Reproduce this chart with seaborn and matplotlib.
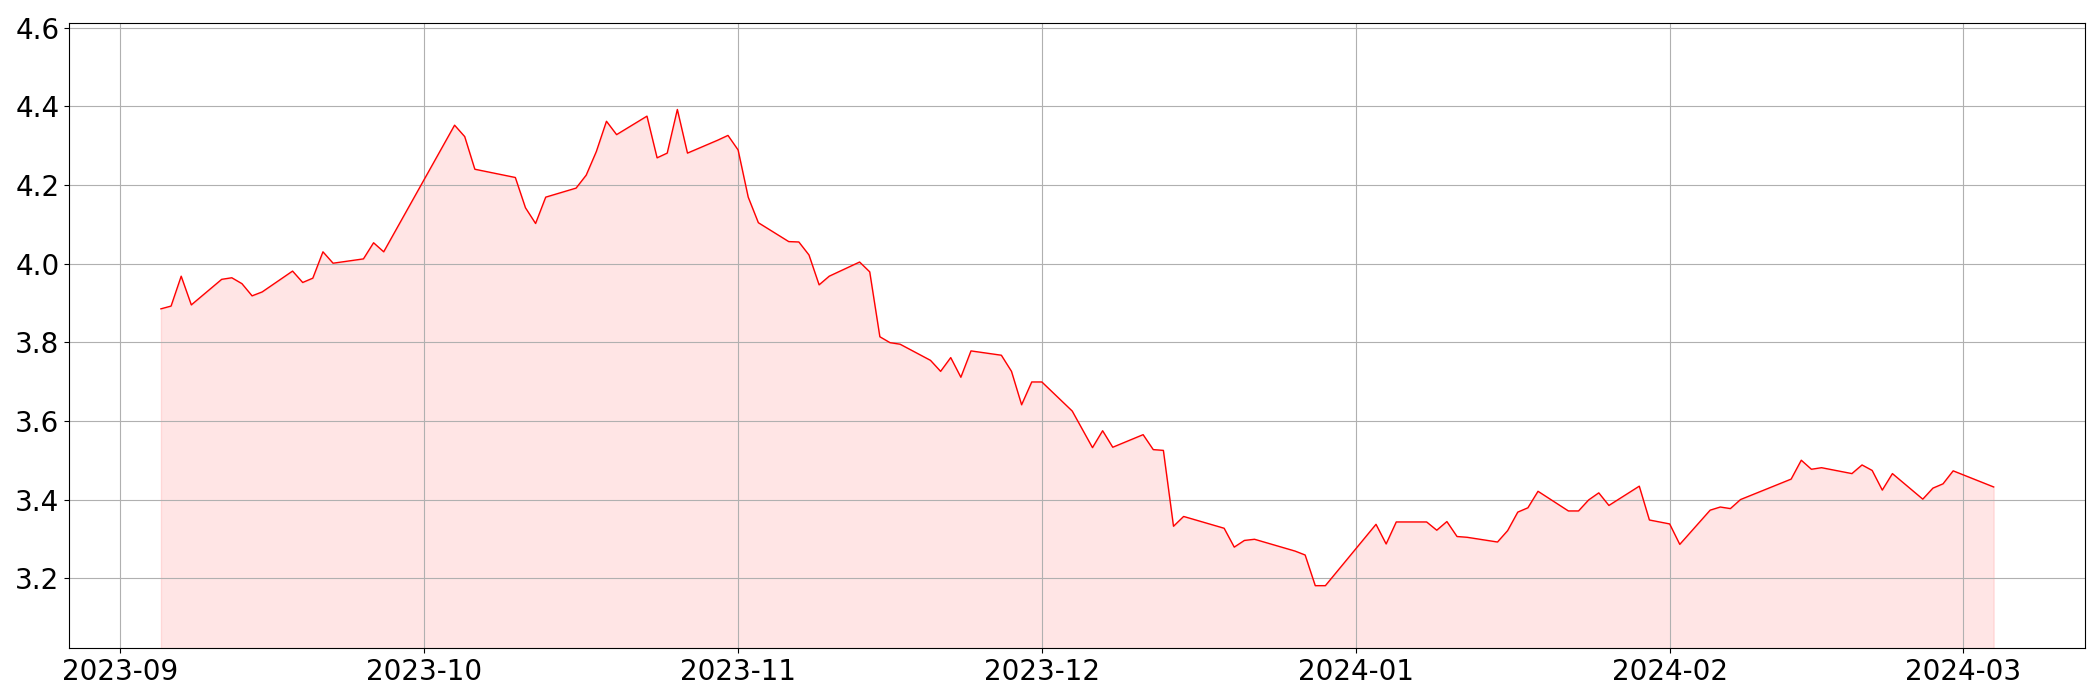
import matplotlib
matplotlib.use("Agg")
import matplotlib.pyplot as plt
import matplotlib.dates as mdates
import seaborn as sns
import pandas as pd

dates = [
    "2023-09-05", "2023-09-06", "2023-09-07", "2023-09-08",
    "2023-09-11", "2023-09-12", "2023-09-13", "2023-09-14", "2023-09-15",
    "2023-09-18", "2023-09-19", "2023-09-20", "2023-09-21", "2023-09-22",
    "2023-09-25", "2023-09-26", "2023-09-27",
    "2023-10-04", "2023-10-05", "2023-10-06",
    "2023-10-10", "2023-10-11", "2023-10-12", "2023-10-13",
    "2023-10-16", "2023-10-17", "2023-10-18", "2023-10-19", "2023-10-20",
    "2023-10-23", "2023-10-24", "2023-10-25", "2023-10-26", "2023-10-27",
    "2023-10-30", "2023-10-31",
    "2023-11-01", "2023-11-02", "2023-11-03",
    "2023-11-06", "2023-11-07", "2023-11-08", "2023-11-09", "2023-11-10",
    "2023-11-13", "2023-11-14", "2023-11-15", "2023-11-16", "2023-11-17",
    "2023-11-20", "2023-11-21", "2023-11-22", "2023-11-23", "2023-11-24",
    "2023-11-27", "2023-11-28", "2023-11-29", "2023-11-30",
    "2023-12-01",
    "2023-12-04", "2023-12-06", "2023-12-07", "2023-12-08",
    "2023-12-11", "2023-12-12", "2023-12-13", "2023-12-14", "2023-12-15",
    "2023-12-19", "2023-12-20", "2023-12-21", "2023-12-22",
    "2023-12-26", "2023-12-27", "2023-12-28", "2023-12-29",
    "2024-01-03", "2024-01-04", "2024-01-05",
    "2024-01-08", "2024-01-09", "2024-01-10", "2024-01-11", "2024-01-12",
    "2024-01-15", "2024-01-16", "2024-01-17", "2024-01-18", "2024-01-19",
    "2024-01-22", "2024-01-23", "2024-01-24", "2024-01-25", "2024-01-26",
    "2024-01-29", "2024-01-30",
    "2024-02-01", "2024-02-02",
    "2024-02-05", "2024-02-06", "2024-02-07", "2024-02-08",
    "2024-02-13", "2024-02-14", "2024-02-15", "2024-02-16",
    "2024-02-19", "2024-02-20", "2024-02-21", "2024-02-22", "2024-02-23",
    "2024-02-26", "2024-02-27", "2024-02-28", "2024-02-29",
    "2024-03-04",
]

values = [
    3.885, 3.892, 3.968, 3.895,
    3.960, 3.964, 3.949, 3.918, 3.928,
    3.981, 3.952, 3.963, 4.030, 4.001,
    4.012, 4.053, 4.030,
    4.352, 4.323, 4.240,
    4.219, 4.142, 4.102, 4.169,
    4.192, 4.225, 4.285, 4.362, 4.328,
    4.375, 4.269, 4.281, 4.392, 4.281,
    4.314, 4.326,
    4.289, 4.169, 4.104,
    4.056, 4.055, 4.022, 3.946, 3.968,
    4.004, 3.979, 3.814, 3.799, 3.795,
    3.754, 3.726, 3.761, 3.711, 3.778,
    3.767, 3.726, 3.641, 3.699,
    3.699,
    3.625, 3.532, 3.575, 3.533,
    3.565, 3.527, 3.525, 3.332, 3.357,
    3.327, 3.279, 3.296, 3.299,
    3.269, 3.259, 3.181, 3.181,
    3.337, 3.287, 3.343,
    3.343, 3.322, 3.344, 3.306, 3.304,
    3.292, 3.321, 3.368, 3.379, 3.421,
    3.371, 3.371, 3.399, 3.417, 3.385,
    3.434, 3.348,
    3.338, 3.286,
    3.373, 3.381, 3.377, 3.400,
    3.452, 3.500, 3.477, 3.481,
    3.466, 3.488, 3.474, 3.424, 3.466,
    3.401, 3.429, 3.440, 3.473,
    3.432,
]

df = pd.DataFrame({"date": pd.to_datetime(dates), "value": values})

fig, ax = plt.subplots(figsize=(21, 7), dpi=100)
y_low = min(values) * 0.95
y_high = max(values) * 1.05

sns.lineplot(data=df, x="date", y="value", color="red", linewidth=1.0, ax=ax)
ax.fill_between(df["date"], df["value"], y_low, color="red", alpha=0.1)
ax.set_ylim(y_low, y_high)
ax.grid(True)
ax.set_xlabel("")
ax.set_ylabel("")
ax.tick_params(labelsize=20)
ax.xaxis.set_major_locator(mdates.MonthLocator())
ax.xaxis.set_major_formatter(mdates.DateFormatter("%Y-%m"))
fig.subplots_adjust(left=0.033, right=0.993, top=0.967, bottom=0.074)
fig.savefig("out.png", dpi=100)
